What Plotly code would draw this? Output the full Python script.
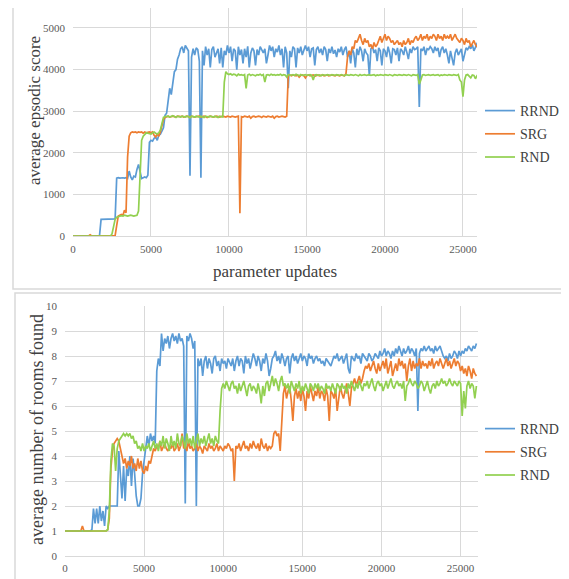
import plotly.graph_objects as go

W, H = 569, 579
OFF = 8  # page body margin of the html page
FW, FH = W - OFF, H - OFF
STEP = 100
N = 261
updates = [i * STEP for i in range(N)]

series_names = ["RRND", "SRG", "RND"]
series_colors = ["#5B9BD5", "#ED7D31", "#92D050"]

score_rrnd = [
    0, 0, 0, 0, 0, 0, 0, 0, 0, 0,
    0, 0, 0, 0, 0, 0, 0, 10, 400, 400,
    400, 400, 400, 400, 400, 400, 400, 410, 1390, 1400,
    1390, 1400, 1400, 1390, 1400, 1380, 1560, 1420, 1350, 1440,
    1420, 1600, 1720, 1550, 1380, 1400, 1420, 1400, 1460, 2250,
    2300, 2280, 2350, 2380, 2300, 2420, 2450, 2520, 2600, 2900,
    2950, 3250, 3550, 3400, 3700, 3950, 4000, 4250, 4350, 4500,
    4550, 4400, 4580, 4500, 4450, 1450, 4300, 4500, 4350, 4520,
    4480, 4200, 1400, 4450, 4100, 4550, 4350, 4500, 4050, 4480,
    4550, 4300, 4400, 4500, 4150, 4520, 4050, 4450, 4350, 4580,
    4400, 4550, 4200, 4500, 4450, 4000, 4550, 4350, 4480, 4150,
    4500, 4300, 4560, 4050, 4400, 4520, 4450, 4100, 4480, 4350,
    4550, 4480, 4400, 4500, 4150, 4350, 4580, 4450, 4550, 4300,
    4500, 4420, 4580, 4350, 4500, 4050, 4550, 4400, 3550, 4450,
    4300, 4550, 4500, 4050, 4520, 4400, 4550, 4350, 4500, 4580,
    4450, 4550, 4300, 4500, 4520, 4100, 4480, 4550, 4400, 4500,
    4350, 4550, 4480, 4200, 4500, 4400, 4550, 4380, 4470, 4300,
    4500, 4420, 4550, 4350, 4480, 4550, 4300, 4450, 4150, 4500,
    4400, 4050, 4500, 4350, 4550, 4450, 4200, 4500, 4400, 4350,
    3850, 4500, 4550, 4400, 4480, 4200, 4520, 4450, 4100, 4500,
    4450, 4300, 4550, 4400, 4150, 4500, 4480, 4350, 4520, 4200,
    4500, 4450, 4350, 4550, 4420, 4250, 4500, 4400, 4550, 4480,
    4500, 4550, 3100, 4500, 4450, 4550, 4350, 4500, 4480, 4550,
    4500, 4400, 4550, 4450, 4520, 4300, 4480, 4550, 4400, 4500,
    4350, 4150, 4450, 4300, 4100, 4400, 4500, 4350, 4450, 4500,
    4200, 4400, 4520, 4480, 4550, 4500, 4600, 4450, 4550, 4620,
    4580,
]

score_srg = [
    0, 0, 0, 0, 0, 0, 0, 0, 0, 0,
    0, 30, 0, 0, 0, 0, 0, 0, 0, 0,
    0, 0, 0, 0, 0, 0, 0, 10, 250, 480,
    500, 520, 500, 620, 560, 1900, 2400, 2480, 2500, 2490,
    2500, 2480, 2500, 2490, 2500, 2470, 2500, 2480, 2490, 2500,
    2480, 2500, 2420, 2380, 2450, 2400, 2500, 2650, 2800, 2850,
    2870, 2880, 2860, 2870, 2880, 2870, 2860, 2880, 2870, 2870,
    2880, 2860, 2870, 2880, 2870, 2850, 2880, 2870, 2860, 2870,
    2870, 2880, 2860, 2870, 2880, 2870, 2850, 2870, 2880, 2870,
    2860, 2870, 2880, 2870, 2860, 2870, 2880, 2870, 2860, 2880,
    2870, 2860, 2880, 2870, 2860, 2870, 2880, 550, 2870, 2860,
    2880, 2870, 2860, 2880, 2830, 2870, 2880, 2860, 2870, 2880,
    2870, 2850, 2880, 2870, 2860, 2880, 2870, 2860, 2880, 2830,
    2870, 2880, 2860, 2870, 2880, 2870, 2860, 2880, 3850, 3870,
    3850, 3870, 3860, 3850, 3870, 3820, 3860, 3870, 3850, 3800,
    3860, 3870, 3850, 3860, 3870, 3840, 3860, 3870, 3850, 3860,
    3870, 3850, 3860, 3870, 3850, 3860, 3870, 3860, 3850, 3870,
    3860, 3850, 3870, 3860, 3850, 3900, 4300, 4450, 4350, 4550,
    4500, 4700, 4650, 4750, 4850, 4700, 4600, 4750, 4650, 4700,
    4550, 4600, 4500, 4650, 4550, 4600, 4700, 4800, 4650, 4750,
    4850, 4700, 4800, 4750, 4650, 4700, 4600, 4650, 4700, 4600,
    4650, 4550, 4700, 4600, 4650, 4750, 4600, 4700, 4650, 4750,
    4800, 4700, 4750, 4850, 4700, 4800, 4750, 4850, 4700, 4800,
    4750, 4850, 4800, 4700, 4850, 4750, 4800, 4700, 4850, 4750,
    4800, 4750, 4850, 4700, 4800, 4850, 4750, 4700, 4650, 4750,
    4700, 4600, 4750, 4650, 4700, 4550, 4650, 4700, 4600, 4550,
    4500,
]

score_rnd = [
    0, 0, 0, 0, 0, 0, 0, 0, 0, 0,
    0, 0, 0, 0, 0, 0, 0, 0, 0, 0,
    0, 0, 0, 0, 0, 50, 200, 400, 450, 470,
    480, 490, 480, 500, 490, 480, 490, 500, 490, 480,
    490, 500, 600, 1500, 2300, 2400, 2450, 2480, 2470, 2460,
    2450, 2480, 2500, 2470, 2450, 2480, 2550, 2700, 2850, 2870,
    2870, 2880, 2860, 2870, 2890, 2870, 2850, 2880, 2870, 2860,
    2880, 2870, 2860, 2880, 2870, 2840, 2880, 2870, 2860, 2880,
    2870, 2860, 2880, 2870, 2850, 2880, 2870, 2860, 2880, 2870,
    2860, 2880, 2870, 2850, 2880, 2870, 2860, 3700, 3950, 3900,
    3880, 3900, 3870, 3890, 3880, 3850, 3890, 3870, 3880, 3860,
    3880, 3550, 3870, 3890, 3860, 3880, 3870, 3850, 3880, 3870,
    3890, 3860, 3880, 3700, 3870, 3880, 3860, 3890, 3870, 3880,
    3860, 3880, 3870, 3890, 3860, 3880, 3870, 3820, 3880, 3860,
    3870, 3880, 3860, 3890, 3870, 3850, 3880, 3860, 3870, 3880,
    3860, 3870, 3880, 3860, 3750, 3870, 3880, 3860, 3870, 3850,
    3880, 3870, 3860, 3880, 3870, 3860, 3880, 3870, 3860, 3880,
    3870, 3860, 3880, 3870, 3850, 3880, 3870, 3860, 3880, 3870,
    3860, 3880, 3870, 3850, 3880, 3860, 3870, 3880, 3860, 3870,
    3880, 3860, 3870, 3880, 3850, 3870, 3860, 3880, 3870, 3860,
    3880, 3870, 3860, 3880, 3870, 3850, 3880, 3870, 3860, 3880,
    3870, 3860, 3880, 3870, 3860, 3880, 3870, 3850, 3880, 3870,
    3860, 3880, 3650, 3750, 3870, 3880, 3860, 3870, 3880, 3860,
    3870, 3880, 3860, 3870, 3880, 3850, 3870, 3860, 3880, 3870,
    3860, 3880, 3870, 3860, 3880, 3870, 3860, 3880, 3750, 3700,
    3350, 3750, 3870, 3880, 3850, 3800, 3870, 3860, 3780, 3850,
    3820,
]

rooms_rrnd = [
    1, 1, 1, 1, 1, 1, 1, 1, 1, 1,
    1, 1, 1, 1, 1, 1, 1, 1.05, 1.9, 1.3,
    1.9, 1.3, 2.0, 1.4, 1.8, 1.2, 2.0, 1.9, 2.0, 2.0,
    2.0, 2.0, 2.0, 2.0, 4.2, 3.0, 2.3, 3.6, 2.2, 3.5,
    3.2, 4.0, 2.8, 3.9, 3.3, 2.4, 2.0, 2.0, 2.3, 3.3,
    3.8, 4.5, 4.8, 4.4, 4.9, 4.6, 4.8, 4.5, 7.4, 7.9,
    7.6, 8.9, 8.2, 8.7, 8.5, 8.8, 8.3, 8.7, 8.9, 8.6,
    8.8, 8.5, 8.9, 8.6, 8.7, 8.4, 2.1, 8.8, 8.6, 8.9,
    8.7, 8.3, 8.6, 2.0, 7.9, 7.6, 7.9, 7.2, 7.8, 8.0,
    7.5, 7.9, 7.7, 7.3, 7.9, 8.0, 7.6, 7.8, 7.4, 7.9,
    7.7, 7.8, 7.5, 7.9, 7.7, 7.6, 7.9, 7.4, 7.8, 8.0,
    7.6, 7.9, 7.8, 7.3, 8.0, 7.7, 7.9, 7.5, 7.8, 8.1,
    7.9, 7.6, 8.0, 7.8, 7.4, 7.9, 7.7, 8.1, 7.8, 7.2,
    7.5, 7.9, 8.0, 8.2, 7.8, 8.0, 7.7, 8.1, 7.9, 7.6,
    7.9, 8.0, 7.3, 7.9, 8.1, 7.8, 8.0, 7.7, 7.9, 8.1,
    7.8, 8.0, 7.9, 7.6, 8.1, 7.9, 8.0, 7.7, 7.9, 8.0,
    7.8, 7.9, 7.7, 7.8, 7.6, 7.9, 7.8, 7.7, 7.6, 7.8,
    8.0, 7.9, 8.1, 7.8, 7.9, 8.0, 7.7, 7.9, 8.1, 7.5,
    7.3, 8.0, 7.9, 7.8, 8.1, 7.9, 8.0, 7.7, 8.1, 8.0,
    7.9, 7.8, 8.1, 8.0, 7.8, 7.9, 8.1, 8.0, 7.9, 8.2,
    8.0, 8.1, 8.3, 8.0, 8.2, 8.1, 7.9, 8.2, 8.0, 8.3,
    8.1, 8.4, 8.2, 8.0, 8.3, 8.1, 8.2, 8.4, 8.1, 8.3,
    8.2, 8.0, 8.3, 5.8, 8.1, 8.3, 8.2, 8.4, 8.2, 8.3,
    8.4, 8.2, 8.3, 8.1, 8.4, 8.2, 8.3, 8.4, 8.2, 8.0,
    7.9, 8.0, 7.8, 8.1, 7.9, 8.0, 8.2, 8.1, 7.9, 8.2,
    8.0, 8.2, 8.1, 8.3, 8.2, 8.4, 8.3, 8.2, 8.4, 8.3,
    8.5,
]

rooms_srg = [
    1, 1, 1, 1, 1, 1, 1, 1, 1, 1,
    1, 1.2, 1, 1, 1, 1, 1, 1, 1, 1,
    1, 1, 1, 1, 1, 1, 1, 1.05, 1.5, 3.5,
    4.2, 4.5, 4.6, 4.7, 4.6, 4.3, 4.0, 3.7, 3.9, 3.5,
    3.8, 3.6, 4.0, 3.5, 3.7, 3.4, 3.9, 3.5, 3.8, 3.4,
    3.3, 3.6, 3.4, 3.8, 3.7, 4.0, 4.3, 4.2, 4.4, 4.3,
    4.6, 4.2, 4.4, 4.5, 4.3, 4.2, 4.4, 4.3, 4.5, 4.2,
    4.3, 4.5, 4.2, 4.4, 4.9, 4.3, 4.4, 4.2, 4.6, 4.3,
    4.4, 4.2, 4.3, 4.5, 4.2, 4.4, 4.3, 4.1, 4.4, 4.3,
    4.2, 4.5, 4.3, 4.4, 4.2, 4.3, 4.5, 4.2, 4.4, 4.3,
    4.2, 4.4, 4.3, 4.5, 4.4, 4.2, 4.3, 3.0, 4.4, 4.3,
    4.5, 4.2, 4.4, 4.6, 4.3, 4.4, 4.2, 4.5, 4.3, 4.6,
    4.4, 4.3, 4.5, 4.2, 4.7, 4.4, 4.3, 4.5, 4.2, 4.4,
    4.3, 4.4, 4.9, 5.0, 4.8, 4.9, 4.2, 5.2, 6.5, 6.8,
    6.3, 6.6, 6.8, 6.2, 5.4, 6.4, 6.7, 6.3, 6.6, 6.2,
    6.7, 6.4, 5.8, 6.6, 6.3, 6.8, 6.5, 6.2, 6.6, 6.4,
    6.8, 6.3, 6.6, 6.5, 6.2, 6.7, 6.4, 5.4, 6.6, 6.5,
    6.3, 6.7, 5.8, 6.4, 6.8, 6.5, 6.3, 6.6, 6.9, 6.5,
    6.0, 6.7, 6.9, 7.1, 6.8, 7.0, 7.2, 6.9, 7.1, 7.4,
    7.6, 7.5, 7.7, 7.4, 7.6, 7.8, 7.5, 7.3, 7.7, 7.4,
    7.6, 7.8, 7.5, 7.9, 7.3, 7.6, 7.8, 7.2, 7.5, 7.7,
    7.4, 7.9, 7.6, 7.8, 7.5, 7.7, 7.0, 7.6, 7.9, 7.4,
    7.8, 7.5, 7.7, 7.6, 7.9, 7.5, 7.8, 7.6, 7.7, 7.5,
    7.8, 7.6, 7.9, 7.5, 7.7, 7.8, 7.6, 7.9, 7.7, 7.5,
    7.7, 7.9, 7.6, 7.8, 7.5, 7.7, 7.9, 7.6, 7.8, 7.7,
    7.4, 7.6, 7.3, 7.5, 7.2, 7.6, 7.4, 7.1, 7.5, 7.3,
    7.2,
]

rooms_rnd = [
    1, 1, 1, 1, 1, 1, 1, 1, 1, 1,
    1, 1, 1, 1, 1, 1, 1, 1, 1, 1,
    1, 1, 1, 1, 1, 1, 1, 1.05, 1.8, 3.8,
    4.5, 4.4, 3.4, 4.3, 4.6, 4.7, 4.8, 4.9, 4.8, 4.9,
    4.8, 4.9, 4.7, 4.8, 4.5, 4.6, 4.3, 4.4, 4.2, 4.5,
    4.2, 4.4, 4.3, 4.5, 4.2, 4.4, 4.6, 4.3, 4.5, 4.2,
    4.6, 4.4, 4.8, 4.3, 4.7, 4.5, 4.2, 4.8, 4.4, 4.6,
    4.3, 4.9, 4.5, 4.4, 4.8, 4.6, 4.3, 4.9, 4.5, 4.7,
    4.4, 4.8, 4.3, 4.6, 4.9, 4.4, 4.7, 4.5, 4.8, 4.4,
    4.6, 4.9, 4.5, 4.7, 4.4, 4.8, 4.6, 4.5, 5.8, 6.7,
    6.9, 6.7, 7.0, 6.8, 6.6, 6.9, 7.0, 6.7, 6.8, 6.5,
    6.9, 6.6, 6.8, 7.0, 6.7, 6.4, 6.8, 6.9, 6.6, 6.8,
    6.7, 6.5, 6.9, 6.6, 6.1, 6.8, 6.4, 6.9, 7.0, 6.6,
    6.9, 7.2, 6.8, 7.1, 6.9, 6.6, 7.0, 7.2, 6.8, 6.9,
    6.7, 6.9, 6.5, 7.0, 6.8, 6.6, 6.9, 6.7, 7.0, 6.5,
    6.8, 6.6, 6.9, 6.7, 6.5, 6.9, 6.8, 6.6, 6.9, 6.7,
    6.9, 6.6, 6.8, 6.7, 6.5, 6.9, 6.7, 6.8, 6.6, 6.9,
    6.7, 6.5, 6.9, 6.8, 6.6, 6.9, 6.7, 6.8, 6.5, 6.9,
    6.7, 7.0, 6.8, 6.6, 6.9, 6.7, 7.0, 6.8, 6.6, 6.9,
    6.8, 7.0, 6.7, 6.9, 7.1, 6.8, 6.6, 6.9, 7.0, 6.8,
    6.9, 6.6, 6.8, 7.0, 6.7, 6.9, 7.1, 6.8, 6.7, 6.9,
    7.0, 6.8, 6.9, 6.7, 7.0, 6.2, 6.8, 6.9, 7.1, 6.9,
    6.8, 7.0, 6.9, 6.7, 6.8, 7.0, 6.9, 6.6, 6.8, 7.0,
    6.7, 6.5, 6.8, 6.9, 6.7, 7.0, 6.8, 6.9, 7.1, 6.9,
    7.0, 6.8, 6.9, 7.1, 6.9, 6.8, 7.0, 6.9, 6.8, 7.0,
    6.9, 5.6, 6.6, 5.9, 6.8, 7.0, 6.7, 6.9, 6.8, 6.3,
    6.8,
]

score_ticks = [0, 1000, 2000, 3000, 4000, 5000]
rooms_ticks = [0, 1, 2, 3, 4, 5, 6, 7, 8, 9, 10]
update_ticks = [0, 5000, 10000, 15000, 20000, 25000]

for s in [score_rrnd, score_srg, score_rnd, rooms_rrnd, rooms_srg, rooms_rnd]:
    assert len(s) == N, len(s)

SERIF = "Liberation Serif"
GRID = "#d9d9d9"
TICKC = "#595959"
TEXTC = "#404040"

fig = go.Figure()
top = [score_rrnd, score_srg, score_rnd]
bot = [rooms_rrnd, rooms_srg, rooms_rnd]
for i, name in enumerate(series_names):
    fig.add_trace(go.Scatter(
        x=updates, y=top[i], mode="lines", name=name,
        line=dict(color=series_colors[i], width=1.7),
        xaxis="x", yaxis="y", legend="legend", legendgroup="t" + name,
    ))
for i, name in enumerate(series_names):
    fig.add_trace(go.Scatter(
        x=updates, y=bot[i], mode="lines", name=name,
        line=dict(color=series_colors[i], width=1.7),
        xaxis="x2", yaxis="y2", legend="legend2", legendgroup="b" + name,
    ))

# helpers: convert target window pixels into paper fractions (page has 8px body margin)
def px_x(p):
    return min(1.0, max(0.0, (p - OFF) / FW))

def px_y(p):
    return min(1.0, max(0.0, 1 - (p - OFF) / FH))

def px_y_free(p):
    return 1 - (p - OFF) / FH

axis_common = dict(
    showgrid=True, gridcolor=GRID, gridwidth=1, zeroline=False,
    tickfont=dict(family=SERIF, size=11, color=TICKC), ticks="",
    automargin=False,
)

fig.update_layout(
    width=FW, height=FH,
    margin=dict(l=0, r=0, t=0, b=0, autoexpand=False),
    paper_bgcolor="white", plot_bgcolor="white",
    font=dict(family=SERIF, color=TEXTC),
    showlegend=True,
    xaxis=dict(domain=[px_x(73), px_x(477)], range=[0, 25900], anchor="y",
               tickvals=update_ticks, tickformat="d", showline=True,
               linecolor=GRID, linewidth=1, ticklabelstandoff=3, **axis_common),
    yaxis=dict(domain=[px_y(236), px_y(8)], range=[0, 5480], anchor="x",
               tickvals=score_ticks, tickformat="d", showline=False,
               ticklabelstandoff=7, **axis_common),
    xaxis2=dict(domain=[px_x(65), px_x(478)], range=[0, 26100], anchor="y2",
                tickvals=update_ticks, tickformat="d", showline=True,
                linecolor=GRID, linewidth=1, ticklabelstandoff=2, **axis_common),
    yaxis2=dict(domain=[px_y(556), px_y(306)], range=[0, 10], anchor="x2",
                tickvals=rooms_ticks, tickformat="d", showline=False,
                ticklabelstandoff=7, **axis_common),
    legend=dict(x=px_x(480), y=px_y(95), xanchor="left", yanchor="top",
                font=dict(family=SERIF, size=14, color=TEXTC),
                itemwidth=30, tracegroupgap=2, bgcolor="rgba(0,0,0,0)"),
    legend2=dict(x=px_x(480), y=px_y(413), xanchor="left", yanchor="top",
                 font=dict(family=SERIF, size=14, color=TEXTC),
                 itemwidth=30, tracegroupgap=2, bgcolor="rgba(0,0,0,0)"),
    shapes=[
        dict(type="rect", xref="paper", yref="paper",
             x0=px_x(13), x1=px_x(566), y0=px_y_free(289), y1=px_y_free(-5),
             line=dict(color=GRID, width=1.5), layer="below"),
        dict(type="rect", xref="paper", yref="paper",
             x0=px_x(15), x1=px_x(567), y0=px_y_free(600), y1=px_y_free(293),
             line=dict(color=GRID, width=1.5), layer="below"),
    ],
    annotations=[
        dict(text="average epsodic score", xref="paper", yref="paper",
             x=px_x(35), y=px_y(111), textangle=-90, showarrow=False,
             xanchor="center", yanchor="middle",
             font=dict(family=SERIF, size=17, color=TEXTC)),
        dict(text="parameter updates", xref="paper", yref="paper",
             x=px_x(275), y=px_y(271), showarrow=False,
             xanchor="center", yanchor="middle",
             font=dict(family=SERIF, size=17, color=TEXTC)),
        dict(text="average number of rooms found", xref="paper", yref="paper",
             x=px_x(37), y=px_y(430), textangle=-90, showarrow=False,
             xanchor="center", yanchor="middle",
             font=dict(family=SERIF, size=18, color=TEXTC)),
    ],
)

fig.write_html("out.html")
